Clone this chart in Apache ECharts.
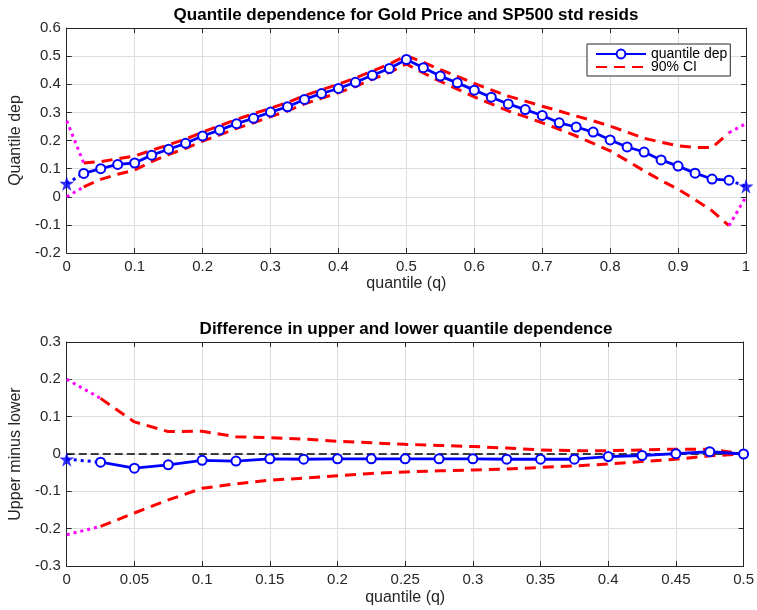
<!DOCTYPE html>
<html>
<head>
<meta charset="utf-8">
<script src="https://cdn.jsdelivr.net/npm/echarts@6/dist/echarts.min.js"></script>
<style>
  html, body { margin: 0; padding: 0; background: #fff; }
  #chart { width: 757px; height: 610px; }
</style>
</head>
<body>
<div id="chart"></div>
<script>
// Quantile grid for the full range (upper panel)
const qTop = [0.025, 0.05, 0.075, 0.1, 0.125, 0.15, 0.175, 0.2, 0.225, 0.25,
  0.275, 0.3, 0.325, 0.35, 0.375, 0.4, 0.425, 0.45, 0.475, 0.5,
  0.525, 0.55, 0.575, 0.6, 0.625, 0.65, 0.675, 0.7, 0.725, 0.75,
  0.775, 0.8, 0.825, 0.85, 0.875, 0.9, 0.925, 0.95, 0.975];
const depTop = [0.083, 0.100, 0.115, 0.120, 0.148, 0.169, 0.190, 0.216, 0.237, 0.260,
  0.279, 0.301, 0.320, 0.346, 0.367, 0.385, 0.407, 0.432, 0.456, 0.488,
  0.459, 0.429, 0.405, 0.379, 0.354, 0.330, 0.310, 0.289, 0.263, 0.248,
  0.230, 0.202, 0.177, 0.159, 0.131, 0.109, 0.084, 0.063, 0.059];
const ciUpTop = [0.120, 0.125, 0.135, 0.145, 0.165, 0.185, 0.205, 0.230, 0.252, 0.275,
  0.295, 0.315, 0.335, 0.360, 0.380, 0.400, 0.422, 0.447, 0.472, 0.502,
  0.478, 0.452, 0.428, 0.403, 0.380, 0.358, 0.340, 0.322, 0.305, 0.287,
  0.270, 0.251, 0.230, 0.208, 0.194, 0.181, 0.175, 0.175, 0.228];
const ciLoTop = [0.035, 0.062, 0.080, 0.095, 0.125, 0.150, 0.172, 0.198, 0.220, 0.243,
  0.263, 0.285, 0.305, 0.330, 0.350, 0.370, 0.392, 0.418, 0.442, 0.472,
  0.440, 0.410, 0.383, 0.355, 0.330, 0.305, 0.285, 0.263, 0.240, 0.216,
  0.190, 0.163, 0.128, 0.092, 0.058, 0.027, -0.010, -0.050, -0.103];
// Values at the extreme quantiles q = 0 and q = 1
const qTopEnds = [0, 1];
const depTopEnds = [0.047, 0.037];
const ciUpTopEnds = [0.27, 0.26];
const ciLoTopEnds = [0.0, 0.0];

// Quantile grid for the difference (lower panel)
const qBot = [0.025, 0.05, 0.075, 0.1, 0.125, 0.15, 0.175, 0.2, 0.225, 0.25,
  0.275, 0.3, 0.325, 0.35, 0.375, 0.4, 0.425, 0.45, 0.475, 0.5];
const diffBot = [-0.022, -0.038, -0.029, -0.017, -0.019, -0.013, -0.014, -0.013, -0.013, -0.013,
  -0.013, -0.013, -0.014, -0.014, -0.014, -0.007, -0.004, 0.001, 0.006, 0.0];
const ciUpBot = [0.149, 0.086, 0.060, 0.061, 0.046, 0.044, 0.040, 0.034, 0.030, 0.026,
  0.023, 0.020, 0.016, 0.011, 0.009, 0.009, 0.011, 0.013, 0.013, 0.0];
const ciLoBot = [-0.194, -0.158, -0.123, -0.092, -0.080, -0.070, -0.065, -0.058, -0.052, -0.048,
  -0.045, -0.043, -0.040, -0.036, -0.032, -0.027, -0.020, -0.014, -0.005, 0.0];
const qBotEnd = 0;
const diffBotEnd = -0.014;
const ciUpBotEnd = 0.2;
const ciLoBotEnd = -0.216;

const xTicksTop = { min: 0, max: 1, interval: 0.1 };
const yTicksTop = { min: -0.2, max: 0.6, interval: 0.1 };
const xTicksBot = { min: 0, max: 0.5, interval: 0.05 };
const yTicksBot = { min: -0.3, max: 0.3, interval: 0.1 };

const FONT = '"Liberation Sans", Arial, Helvetica, sans-serif';
const AX = '#262626';
const BLUE = '#0000ff', RED = '#ff0000', MAGENTA = '#ff00ff';
const STAR = 'path://M50,0 L61.8,35.1 L98.9,35.1 L68.9,56.9 L80.2,91.9 L50,70.2 L19.8,91.9 L31.1,56.9 L1.1,35.1 L38.2,35.1 Z';

const zip = (xs, ys) => xs.map((x, i) => [x, ys[i]]);

function mainAxis(dim, gridIndex, ticks, name, nameGap) {
  return Object.assign({
    type: 'value', gridIndex,
    position: dim === 'x' ? 'bottom' : 'left',
    name, nameLocation: 'middle', nameGap,
    nameTextStyle: { fontFamily: FONT, fontSize: 16, color: AX },
    axisLine: { show: true, onZero: false, lineStyle: { color: AX, width: 1 } },
    axisTick: { show: true, inside: true, length: 5, lineStyle: { color: AX } },
    axisLabel: { fontFamily: FONT, fontSize: 15, color: AX, margin: 6 },
    splitLine: { show: true, lineStyle: { color: '#dedede', width: 1 } }
  }, ticks);
}
function boxAxis(dim, gridIndex, ticks) {
  return Object.assign({
    type: 'value', gridIndex,
    position: dim === 'x' ? 'top' : 'right',
    axisLine: { show: true, onZero: false, lineStyle: { color: AX, width: 1 } },
    axisTick: { show: true, inside: true, length: 5, lineStyle: { color: AX } },
    axisLabel: { show: false },
    splitLine: { show: false }
  }, ticks);
}

function lineSeries(name, xi, yi, data, color, width, type, extra) {
  return Object.assign({
    name, type: 'line', xAxisIndex: xi, yAxisIndex: yi, data,
    showSymbol: false, symbol: 'none', clip: false, silent: true,
    lineStyle: { color, width, type, cap: 'butt' },
    itemStyle: { color }
  }, extra || {});
}

const depStyle = {
  symbol: 'emptyCircle', symbolSize: 9, showSymbol: true,
  itemStyle: { color: BLUE, borderColor: BLUE, borderWidth: 2.2 },
  z: 5
};
const starStyle = (xi, yi, data) => ({
  name: 'endpoint', type: 'scatter', xAxisIndex: xi, yAxisIndex: yi, data,
  symbol: STAR, symbolSize: 15, clip: false, silent: true,
  itemStyle: { color: BLUE }, z: 6
});

const n = qTop.length;

const option = {
  animation: false,
  backgroundColor: '#fff',
  grid: [
    { left: 66, right: 11, top: 28, height: 225 },
    { left: 66, right: 11, top: 342, height: 224 }
  ],
  graphic: [
    { type: 'text', x: 406, y: 15,
      style: { text: 'Quantile dependence for Gold Price and SP500 std resids',
        font: 'bold 17px ' + FONT, fill: '#000',
        textAlign: 'center', textVerticalAlign: 'middle', align: 'center', verticalAlign: 'middle' } },
    { type: 'text', x: 406, y: 329,
      style: { text: 'Difference in upper and lower quantile dependence',
        font: 'bold 17px ' + FONT, fill: '#000',
        textAlign: 'center', textVerticalAlign: 'middle', align: 'center', verticalAlign: 'middle' } }
  ],
  legend: {
    data: [
      'quantile dep',
      { name: '90% CI', itemStyle: { opacity: 0 } }
    ],
    orient: 'vertical', left: 587, top: 44,
    padding: [3, 3, 2, 8], itemGap: -1,
    itemWidth: 50, itemHeight: 11,
    backgroundColor: '#fff', borderColor: AX, borderWidth: 1, borderRadius: 0,
    selectedMode: false,
    textStyle: { fontFamily: FONT, fontSize: 14, color: '#000' }
  },
  xAxis: [
    mainAxis('x', 0, xTicksTop, 'quantile (q)', 23),
    boxAxis('x', 0, xTicksTop),
    mainAxis('x', 1, xTicksBot, 'quantile (q)', 24),
    boxAxis('x', 1, xTicksBot)
  ],
  yAxis: [
    mainAxis('y', 0, yTicksTop, 'Quantile dep', 34),
    boxAxis('y', 0, yTicksTop),
    mainAxis('y', 1, yTicksBot, 'Upper minus lower', 34),
    boxAxis('y', 1, yTicksBot)
  ],
  series: [
    // upper panel
    lineSeries('90% CI', 0, 0, zip(qTop, ciUpTop), RED, 3, [11, 7]),
    lineSeries('90% CI', 0, 0, zip(qTop, ciLoTop), RED, 3, [11, 7]),
    lineSeries('tail', 0, 0, [[qTopEnds[0], ciUpTopEnds[0]], [qTop[0], ciUpTop[0]]], MAGENTA, 3, [3, 4]),
    lineSeries('tail', 0, 0, [[qTopEnds[0], ciLoTopEnds[0]], [qTop[0], ciLoTop[0]]], MAGENTA, 3, [3, 4]),
    lineSeries('tail', 0, 0, [[qTop[n - 1], ciUpTop[n - 1]], [qTopEnds[1], ciUpTopEnds[1]]], MAGENTA, 3, [3, 4]),
    lineSeries('tail', 0, 0, [[qTop[n - 1], ciLoTop[n - 1]], [qTopEnds[1], ciLoTopEnds[1]]], MAGENTA, 3, [3, 4]),
    lineSeries('tail', 0, 0, [[qTopEnds[0], depTopEnds[0]], [qTop[0], depTop[0]]], BLUE, 3, [3, 4]),
    lineSeries('tail', 0, 0, [[qTop[n - 1], depTop[n - 1]], [qTopEnds[1], depTopEnds[1]]], BLUE, 3, [3, 4]),
    lineSeries('quantile dep', 0, 0, zip(qTop, depTop), BLUE, 2.8, 'solid', depStyle),
    starStyle(0, 0, zip(qTopEnds, depTopEnds)),

    // lower panel
    lineSeries('zero', 2, 2, [[xTicksBot.min, 0], [xTicksBot.max, 0]], '#000', 1.5, [8, 4], { z: 1 }),
    lineSeries('90% CI', 2, 2, zip(qBot, ciUpBot), RED, 3, [11, 7]),
    lineSeries('90% CI', 2, 2, zip(qBot, ciLoBot), RED, 3, [11, 7]),
    lineSeries('tail', 2, 2, [[qBotEnd, ciUpBotEnd], [qBot[0], ciUpBot[0]]], MAGENTA, 3, [3, 4]),
    lineSeries('tail', 2, 2, [[qBotEnd, ciLoBotEnd], [qBot[0], ciLoBot[0]]], MAGENTA, 3, [3, 4]),
    lineSeries('tail', 2, 2, [[qBotEnd, diffBotEnd], [qBot[0], diffBot[0]]], BLUE, 3, [3, 4]),
    lineSeries('quantile dep', 2, 2, zip(qBot, diffBot), BLUE, 2.8, 'solid', depStyle),
    starStyle(2, 2, [[qBotEnd, diffBotEnd]])
  ]
};

const chart = echarts.init(document.getElementById('chart'), null, { renderer: 'canvas' });
chart.setOption(option);
</script>
</body>
</html>
